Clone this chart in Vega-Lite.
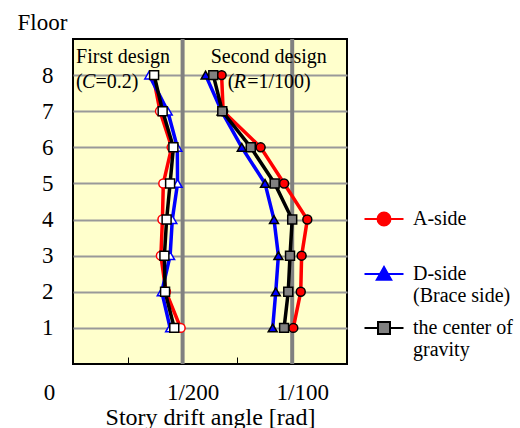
{
  "$schema": "https://vega.github.io/schema/vega-lite/v6.json",
  "width": 274,
  "height": 325,
  "autosize": {"type": "none"},
  "padding": {"left": 73, "top": 39, "right": 173, "bottom": 64},
  "config": {
    "font": "Liberation Serif",
    "view": {"fill": "#ffffcc", "stroke": "black", "strokeWidth": 2}
  },
  "resolve": {"scale": {"shape": "independent", "fill": "independent", "stroke": "independent"}, "legend": {"shape": "independent", "fill": "independent", "stroke": "independent"}},
  "datasets": {
    "drift": [
      {"design": "First", "side": "A-side", "floor": 1, "drift": 0.00491},
      {"design": "First", "side": "A-side", "floor": 2, "drift": 0.00424},
      {"design": "First", "side": "A-side", "floor": 3, "drift": 0.00401},
      {"design": "First", "side": "A-side", "floor": 4, "drift": 0.00408},
      {"design": "First", "side": "A-side", "floor": 5, "drift": 0.00412},
      {"design": "First", "side": "A-side", "floor": 6, "drift": 0.00450},
      {"design": "First", "side": "A-side", "floor": 7, "drift": 0.00397},
      {"design": "First", "side": "A-side", "floor": 8, "drift": 0.00365},
      {"design": "Second", "side": "A-side", "floor": 1, "drift": 0.01005},
      {"design": "Second", "side": "A-side", "floor": 2, "drift": 0.01039},
      {"design": "Second", "side": "A-side", "floor": 3, "drift": 0.01043},
      {"design": "Second", "side": "A-side", "floor": 4, "drift": 0.01069},
      {"design": "Second", "side": "A-side", "floor": 5, "drift": 0.00963},
      {"design": "Second", "side": "A-side", "floor": 6, "drift": 0.00856},
      {"design": "Second", "side": "A-side", "floor": 7, "drift": 0.00685},
      {"design": "Second", "side": "A-side", "floor": 8, "drift": 0.00678},
      {"design": "First", "side": "D-side", "floor": 1, "drift": 0.00443},
      {"design": "First", "side": "D-side", "floor": 2, "drift": 0.00405},
      {"design": "First", "side": "D-side", "floor": 3, "drift": 0.00443},
      {"design": "First", "side": "D-side", "floor": 4, "drift": 0.00453},
      {"design": "First", "side": "D-side", "floor": 5, "drift": 0.00477},
      {"design": "First", "side": "D-side", "floor": 6, "drift": 0.00476},
      {"design": "First", "side": "D-side", "floor": 7, "drift": 0.00432},
      {"design": "First", "side": "D-side", "floor": 8, "drift": 0.00348},
      {"design": "Second", "side": "D-side", "floor": 1, "drift": 0.00911},
      {"design": "Second", "side": "D-side", "floor": 2, "drift": 0.00925},
      {"design": "Second", "side": "D-side", "floor": 3, "drift": 0.00937},
      {"design": "Second", "side": "D-side", "floor": 4, "drift": 0.00917},
      {"design": "Second", "side": "D-side", "floor": 5, "drift": 0.00876},
      {"design": "Second", "side": "D-side", "floor": 6, "drift": 0.00770},
      {"design": "Second", "side": "D-side", "floor": 7, "drift": 0.00678},
      {"design": "Second", "side": "D-side", "floor": 8, "drift": 0.00605},
      {"design": "First", "side": "CG", "floor": 1, "drift": 0.00462},
      {"design": "First", "side": "CG", "floor": 2, "drift": 0.00420},
      {"design": "First", "side": "CG", "floor": 3, "drift": 0.00417},
      {"design": "First", "side": "CG", "floor": 4, "drift": 0.00427},
      {"design": "First", "side": "CG", "floor": 5, "drift": 0.00443},
      {"design": "First", "side": "CG", "floor": 6, "drift": 0.00458},
      {"design": "First", "side": "CG", "floor": 7, "drift": 0.00409},
      {"design": "First", "side": "CG", "floor": 8, "drift": 0.00370},
      {"design": "Second", "side": "CG", "floor": 1, "drift": 0.00963},
      {"design": "Second", "side": "CG", "floor": 2, "drift": 0.00982},
      {"design": "Second", "side": "CG", "floor": 3, "drift": 0.00990},
      {"design": "Second", "side": "CG", "floor": 4, "drift": 0.01000},
      {"design": "Second", "side": "CG", "floor": 5, "drift": 0.00920},
      {"design": "Second", "side": "CG", "floor": 6, "drift": 0.00811},
      {"design": "Second", "side": "CG", "floor": 7, "drift": 0.00681},
      {"design": "Second", "side": "CG", "floor": 8, "drift": 0.00640}
    ],
    "limits": [{"drift": 0.005}, {"drift": 0.01}],
    "titles": [
      {"drift": 0.00014, "floor": 8.34, "label": "First design"},
      {"drift": 0.00628, "floor": 8.34, "label": "Second design"}
    ],
    "params": [
      {"drift": 0.00014, "floor": 7.64, "open": "(", "letter": "C", "rest": "=0.2)"},
      {"drift": 0.00706, "floor": 7.64, "open": "(", "letter": "R", "rest": "=1/100)"}
    ]
  },
  "layer": [
    {
      "data": {"name": "limits"},
      "mark": {"type": "rule", "stroke": "#808080", "strokeWidth": 4},
      "encoding": {
        "x": {"field": "drift", "type": "quantitative", "scale": {"domain": [0, 0.0125], "nice": false, "zero": false}}
      }
    },
    {
      "data": {"name": "drift"},
      "mark": {"type": "line", "strokeWidth": 3.5},
      "encoding": {
        "x": {
          "field": "drift", "type": "quantitative",
          "scale": {"domain": [0, 0.0125], "nice": false, "zero": false},
          "axis": {
            "values": [0, 0.0025, 0.005, 0.0075, 0.01],
            "labelExpr": "datum.value == 0 ? '0' : datum.value == 0.005 ? '1/200' : datum.value == 0.01 ? '1/100' : ''",
            "domain": false, "grid": false,
            "ticks": true, "tickSize": -7, "tickColor": "black", "tickWidth": 1,
            "labelFontSize": 23, "labelColor": "black", "labelPadding": 24,
            "labelFlush": false, "labelOverlap": false,
            "labelOffset": {"condition": {"test": "datum.value == 0", "value": -24}, "value": 10},
            "title": "Story drift angle [rad]",
            "titleFontSize": 24, "titleFontWeight": "normal", "titleColor": "black",
            "titleBaseline": "alphabetic", "titleY": 60
          }
        },
        "y": {
          "field": "floor", "type": "quantitative",
          "scale": {"domain": [0, 9], "nice": false, "zero": false},
          "axis": {
            "values": [1, 2, 3, 4, 5, 6, 7, 8],
            "domain": false, "ticks": false, "grid": true,
            "gridColor": "#999999", "gridWidth": 2,
            "labelFontSize": 23, "labelColor": "black", "labelPadding": 20,
            "title": "Floor", "titleAngle": 0, "titleAlign": "left",
            "titleBaseline": "alphabetic", "titleX": -56, "titleY": -10,
            "titleFontSize": 23, "titleFontWeight": "normal", "titleColor": "black"
          }
        },
        "stroke": {
          "field": "side", "type": "nominal",
          "scale": {"domain": ["A-side", "D-side", "CG"], "range": ["#ff0000", "#0000ff", "#000000"]},
          "legend": null
        },
        "detail": {"field": "design", "type": "nominal"},
        "order": {"field": "floor", "type": "quantitative"}
      }
    },
    {
      "data": {"name": "drift"},
      "mark": {"type": "point", "size": 80, "strokeWidth": 1.5, "opacity": 1},
      "encoding": {
        "x": {"field": "drift", "type": "quantitative"},
        "y": {"field": "floor", "type": "quantitative"},
        "shape": {
          "field": "side", "type": "nominal",
          "scale": {"domain": ["A-side", "D-side", "CG"], "range": ["circle", "triangle-up", "square"]},
          "legend": null
        },
        "fill": {
          "condition": {"test": "datum.design == 'First'", "value": "white"},
          "field": "side", "type": "nominal",
          "scale": {"domain": ["A-side", "D-side", "CG"], "range": ["#ff0000", "#0000ff", "#808080"]},
          "legend": null
        },
        "stroke": {
          "condition": {"test": "datum.design == 'Second'", "value": "black"},
          "field": "side", "type": "nominal",
          "scale": {"domain": ["A-side", "D-side", "CG"], "range": ["#ff0000", "#0000ff", "#000000"]},
          "legend": null
        }
      }
    },
    {
      "data": {"name": "drift"},
      "transform": [{"filter": "datum.floor > 100"}],
      "mark": {"type": "point", "size": 144, "strokeWidth": 2, "opacity": 1},
      "encoding": {
        "x": {"field": "drift", "type": "quantitative"},
        "y": {"field": "floor", "type": "quantitative"},
        "shape": {
          "field": "side", "type": "nominal",
          "scale": {"domain": ["A-side", "D-side", "CG"], "range": [
            "M-3.25,0H-1.08M1.08,0H3.25M-1.08,0A1.08,1.08,0,1,1,1.08,0A1.08,1.08,0,1,1,-1.08,0Z",
            "M-3.25,0H3.25M-1.2,0.95L1.2,0.95L0,-1.15Z",
            "M-3.25,0H-1M1,0H3.25M-1,-1H1V1H-1Z"
          ]},
          "legend": {
            "orient": "none", "legendX": 301, "legendY": 170,
            "title": null,
            "symbolSize": 144, "symbolStrokeWidth": 2, "symbolOpacity": 1,
            "labelFontSize": 20, "labelColor": "black", "labelOffset": 19,
            "rowPadding": 12,
            "labelExpr": "datum.value == 'A-side' ? ['A-side', ''] : datum.value == 'D-side' ? ['D-side', ' (Brace side)'] : ['the center of', 'gravity']"
          }
        },
        "fill": {
          "field": "side", "type": "nominal",
          "scale": {"domain": ["A-side", "D-side", "CG"], "range": ["#ff0000", "#0000ff", "#808080"]},
          "legend": {
            "orient": "none", "legendX": 301, "legendY": 170,
            "title": null,
            "symbolSize": 144, "symbolStrokeWidth": 2, "symbolOpacity": 1,
            "labelFontSize": 20, "labelColor": "black", "labelOffset": 19,
            "rowPadding": 12,
            "labelExpr": "datum.value == 'A-side' ? ['A-side', ''] : datum.value == 'D-side' ? ['D-side', ' (Brace side)'] : ['the center of', 'gravity']"
          }
        },
        "stroke": {
          "field": "side", "type": "nominal",
          "scale": {"domain": ["A-side", "D-side", "CG"], "range": ["#ff0000", "#0000ff", "#000000"]},
          "legend": {
            "orient": "none", "legendX": 301, "legendY": 170,
            "title": null,
            "symbolSize": 144, "symbolStrokeWidth": 2, "symbolOpacity": 1,
            "labelFontSize": 20, "labelColor": "black", "labelOffset": 19,
            "rowPadding": 12,
            "labelExpr": "datum.value == 'A-side' ? ['A-side', ''] : datum.value == 'D-side' ? ['D-side', ' (Brace side)'] : ['the center of', 'gravity']"
          }
        }
      }
    },
    {
      "data": {"name": "titles"},
      "mark": {"type": "text", "align": "left", "baseline": "alphabetic", "fontSize": 20, "color": "black"},
      "encoding": {
        "x": {"field": "drift", "type": "quantitative"},
        "y": {"field": "floor", "type": "quantitative"},
        "text": {"field": "label"}
      }
    },
    {
      "data": {"name": "params"},
      "mark": {"type": "text", "align": "left", "baseline": "alphabetic", "fontSize": 20, "color": "black"},
      "encoding": {
        "x": {"field": "drift", "type": "quantitative"},
        "y": {"field": "floor", "type": "quantitative"},
        "text": {"field": "open"}
      }
    },
    {
      "data": {"name": "params"},
      "mark": {"type": "text", "align": "left", "baseline": "alphabetic", "fontSize": 20, "fontStyle": "italic", "color": "black", "dx": 6},
      "encoding": {
        "x": {"field": "drift", "type": "quantitative"},
        "y": {"field": "floor", "type": "quantitative"},
        "text": {"field": "letter"}
      }
    },
    {
      "data": {"name": "params"},
      "mark": {"type": "text", "align": "left", "baseline": "alphabetic", "fontSize": 20, "color": "black", "dx": 19.5},
      "encoding": {
        "x": {"field": "drift", "type": "quantitative"},
        "y": {"field": "floor", "type": "quantitative"},
        "text": {"field": "rest"}
      }
    }
  ]
}
